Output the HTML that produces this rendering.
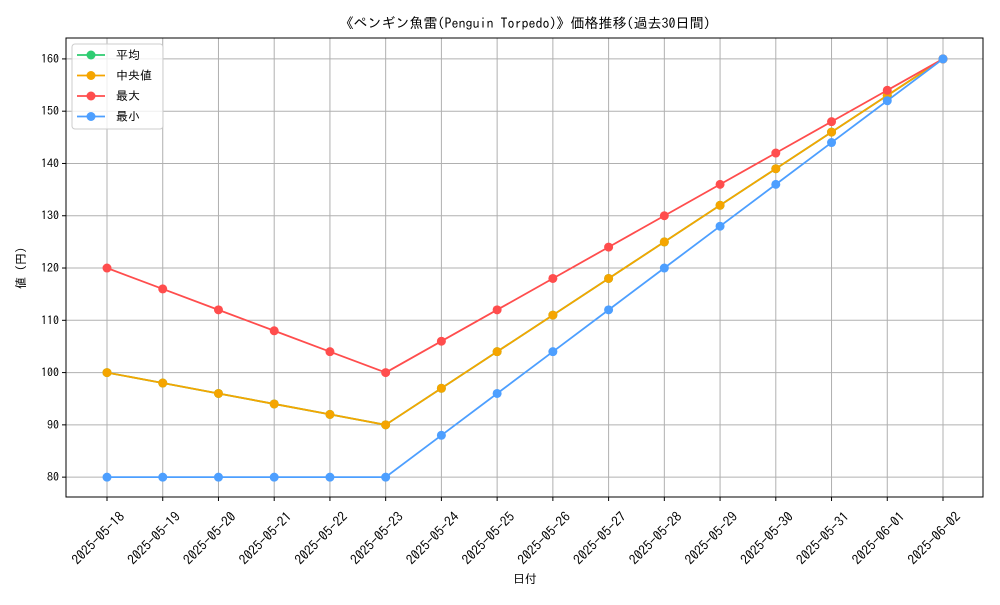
<!DOCTYPE html>
<html><head><meta charset="utf-8">
<style>
body{margin:0;background:#fff;}
svg text{font-family:"IPAGothic","Noto Sans CJK JP",sans-serif;fill:#000;}
</style></head>
<body>
<svg id="chart" width="1000" height="600" xmlns="http://www.w3.org/2000/svg"></svg>
<script>
const dates=["2025-05-18","2025-05-19","2025-05-20","2025-05-21","2025-05-22","2025-05-23","2025-05-24","2025-05-25","2025-05-26","2025-05-27","2025-05-28","2025-05-29","2025-05-30","2025-05-31","2025-06-01","2025-06-02"];
const meanVals=[100,98,96,94,92,90,97,104,111,118,125,132,139,146,153,160];
const medianVals=[100,98,96,94,92,90,97,104,111,118,125,132,139,146,153,160];
const maxVals=[120,116,112,108,104,100,106,112,118,124,130,136,142,148,154,160];
const minVals=[80,80,80,80,80,80,88,96,104,112,120,128,136,144,152,160];
const yTicks=[80,90,100,110,120,130,140,150,160];

const svg=document.getElementById('chart');
const NS='http://www.w3.org/2000/svg';
const L=66,R=983,T=38,B=497;
const yMin=76.2,yMax=164;
function xs(i){return 107+i*(943-107)/(dates.length-1);}
function ys(v){return B-(v-yMin)/(yMax-yMin)*(B-T);}
function mk(tag,attrs,parent){const e=document.createElementNS(NS,tag);for(const k in attrs)e.setAttribute(k,attrs[k]);(parent||svg).appendChild(e);return e;}

const grid=mk('g',{});


dates.forEach((d,i)=>{
  mk('line',{x1:xs(i),x2:xs(i),y1:T,y2:B,stroke:'#b0b0b0','stroke-width':1},grid);
  mk('line',{x1:xs(i),x2:xs(i),y1:B,y2:B+4,stroke:'#000'},grid);
  const t=mk('text',{x:0,y:0,'font-size':13.5,'text-anchor':'middle',transform:`translate(${xs(i)-5.5},${B+44.5}) rotate(-45)`});
  t.textContent=d;
  
  
});
yTicks.forEach(v=>{
  mk('line',{x1:L,x2:R,y1:ys(v),y2:ys(v),stroke:'#b0b0b0','stroke-width':1},grid);
  mk('line',{x1:L-4,x2:L,y1:ys(v),y2:ys(v),stroke:'#000'},grid);
  const t=mk('text',{x:L-7,y:ys(v)+4,'font-size':12,'text-anchor':'end'});
  t.textContent=v;
  
  
});
const frame=mk('rect',{x:L,y:T,width:R-L,height:B-T,fill:'none',stroke:'#000','stroke-width':1});



const series=[
 {name:'mean',vals:meanVals,color:'#2ecc71'},
 {name:'median',vals:medianVals,color:'#f5a500'},
 {name:'max',vals:maxVals,color:'#ff4d4d'},
 {name:'min',vals:minVals,color:'#4d9fff'}];
series.forEach(s=>{
  const g=mk('g',{});
  
  
  mk('polyline',{points:s.vals.map((v,i)=>xs(i)+','+ys(v)).join(' '),fill:'none',stroke:s.color,'stroke-width':1.8},g);
  s.vals.forEach((v,i)=>{
    const c=mk('circle',{cx:xs(i),cy:ys(v),r:4.5,fill:s.color},g);
    
    
  });
});

const title=mk('text',{x:525,y:28,'font-size':14,'text-anchor':'middle'});
title.textContent='《ペンギン魚雷(Penguin Torpedo)》価格推移(過去30日間)';


const xt=mk('text',{x:525,y:583,'font-size':12,'text-anchor':'middle'});
xt.textContent='日付';


const yt=mk('text',{x:0,y:0,'font-size':12,'text-anchor':'middle',transform:'translate(25,268) rotate(-90)'});
yt.textContent='値 (円)';



const lg=mk('g',{});


mk('rect',{x:72,y:44,width:91,height:85,rx:3,fill:'#fff','fill-opacity':0.8,stroke:'#ccc'},lg);
const labels=['平均','中央値','最大','最小'];
series.forEach((s,i)=>{
  const y=55+i*20.5;
  mk('line',{x1:77,x2:105,y1:y,y2:y,stroke:s.color,'stroke-width':1.8},lg);
  mk('circle',{cx:91,cy:y,r:4.5,fill:s.color},lg);
  const t=mk('text',{x:116,y:y+4,'font-size':12},lg);
  t.textContent=labels[i];
  
  
});
</script>
</body></html>
